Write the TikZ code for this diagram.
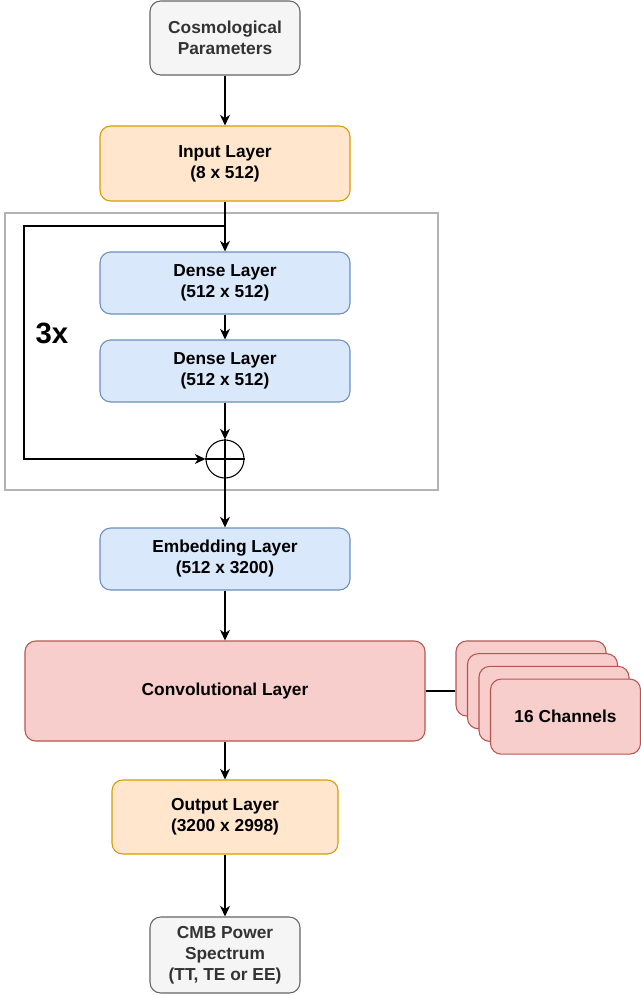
\documentclass[tikz,border=0pt]{standalone}
\usepackage{fontspec}
\setmainfont{Liberation Sans}
\usetikzlibrary{arrows.meta}
\definecolor{grayfill}{HTML}{F5F5F5}
\definecolor{graystroke}{HTML}{666666}
\definecolor{graytext}{HTML}{333333}
\definecolor{orfill}{HTML}{FFE6CC}
\definecolor{orstroke}{HTML}{D79B00}
\definecolor{blfill}{HTML}{DAE8FC}
\definecolor{blstroke}{HTML}{6C8EBF}
\definecolor{rdfill}{HTML}{F8CECC}
\definecolor{rdstroke}{HTML}{B85450}
\definecolor{framegray}{HTML}{B3B3B3}
\tikzset{
  box/.style={rounded corners=8pt, line width=0.8pt, align=center, inner sep=0pt,
    font=\fontsize{13}{15.75}\selectfont\bfseries},
  graybox/.style={box, fill=grayfill, draw=graystroke, text=graytext},
  orbox/.style={box, fill=orfill, draw=orstroke},
  blbox/.style={box, fill=blfill, draw=blstroke},
  rdbox/.style={box, fill=rdfill, draw=rdstroke},
  conn/.style={line width=1pt, -{Stealth[length=8pt,width=7.5pt,inset=2.5pt]}},
  plain/.style={line width=1pt},
}
\begin{document}
\begin{tikzpicture}[x=0.75pt,y=-0.75pt]
\useasboundingbox (0,0) rectangle (640,996);
% outer frame
\draw[framegray, line width=1pt] (5,213) rectangle (438,490);

\node[graybox, minimum width=112.5pt, minimum height=55.5pt] (cosmo) at (225,38) {Cosmological\\Parameters};
\node[orbox, minimum width=187.5pt, minimum height=56.25pt] (input) at (225,163.5) {Input Layer\\(8 x 512)};
\node[blbox, minimum width=187.5pt, minimum height=46.5pt] (dense1) at (225,283) {Dense Layer\\(512 x 512)};
\node[blbox, minimum width=187.5pt, minimum height=46.5pt] (dense2) at (225,371) {Dense Layer\\(512 x 512)};
\node[circle, draw, line width=0.8pt, minimum size=28.5pt, inner sep=0pt] (plus) at (225,459) {};
\node[blbox, minimum width=187.5pt, minimum height=46.5pt] (embed) at (225,559) {Embedding Layer\\(512 x 3200)};
\node[rdbox, minimum width=300pt, minimum height=75pt] (conv) at (225,691) {Convolutional Layer};
\node[rdbox, minimum width=112.5pt, minimum height=56.25pt] (ch1) at (531,678.5) {};
\node[rdbox, minimum width=112.5pt, minimum height=56.25pt] (ch2) at (542.5,691.2) {};
\node[rdbox, minimum width=112.5pt, minimum height=56.25pt] (ch3) at (554,703.9) {};
\node[rdbox, minimum width=112.5pt, minimum height=56.25pt] (ch4) at (565.5,716.6) {16 Channels};
\node[orbox, minimum width=169.5pt, minimum height=55.5pt] (output) at (225,817) {Output Layer\\(3200 x 2998)};
\node[graybox, minimum width=112.5pt, minimum height=57pt] (cmb) at (225,955) {CMB Power\\Spectrum\\(TT, TE or EE)};

\node[font=\fontsize{22}{26}\selectfont\bfseries, inner sep=0pt] (rep) at (52,333) {3x};

\coordinate (lt) at (225,226);
\coordinate (tl) at (24,226);
\coordinate (bl) at (24,459);

\draw[conn] (cosmo) -- (input);
\draw[conn] (input) -- (dense1);
\draw[conn] (input.south) -- (lt) -- (tl) -- (bl) -- (plus.west);
\draw[conn] (dense1) -- (dense2);
\draw[conn] (dense2) -- (plus.north);
\draw[line width=0.8pt] (plus.north) -- (plus.south) (plus.west) -- (plus.east);
\draw[conn] (plus.south) -- (embed.north);
\draw[conn] (embed) -- (conv);
\draw[plain] (conv.east) -- (conv.east -| ch1.west);
\draw[conn] (conv) -- (output);
\draw[conn] (output) -- (cmb);
\end{tikzpicture}
\end{document}
